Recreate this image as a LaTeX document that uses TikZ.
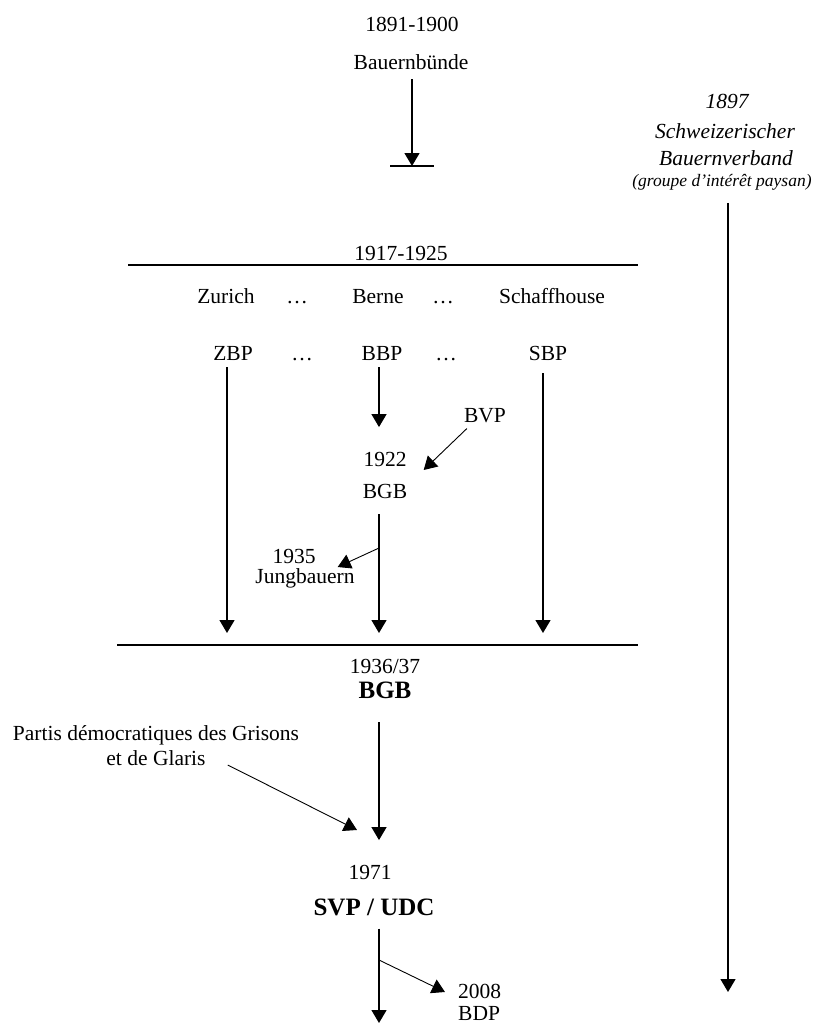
\documentclass[tikz,border=0pt]{standalone}
\usepackage{fontspec}
\setmainfont{Liberation Serif}
\usetikzlibrary{arrows.meta}
\begin{document}
\begin{tikzpicture}[x=1pt,y=-1pt,
  txt/.style={font=\fontsize{21.5}{25}\selectfont, inner sep=0pt, anchor=base},
  boldtxt/.style={font=\fontsize{25}{28}\selectfont\bfseries, inner sep=0pt, anchor=base},
  ital/.style={font=\fontsize{21.5}{25}\selectfont\itshape, inner sep=0pt, anchor=base},
  smallital/.style={font=\fontsize{17.5}{20}\selectfont\itshape, inner sep=0pt, anchor=base},
  tip/.style={-{Triangle[width=15pt,length=13pt]}},
  mainarrow/.style={tip, line width=1.4pt},
  thinarrow/.style={tip, line width=0.9pt},
  rule/.style={line width=1.4pt}]
\useasboundingbox (0,0) rectangle (819,1026);

% column coordinates
\coordinate (colB) at (379,0);
\coordinate (bar) at (412,166);
\coordinate (barL) at (390,166);
\coordinate (barR) at (434,166);
\coordinate (r1L) at (128,265);
\coordinate (r1R) at (638,265);
\coordinate (r2L) at (117,645);
\coordinate (r2R) at (638,645);
\coordinate (zEnd) at (227,633);
\coordinate (bEnd) at (379,633);
\coordinate (sEnd) at (543,633);
\coordinate (sbvEnd) at (728,992);
\coordinate (svpEnd) at (379,1023);
\coordinate (jbFork) at (379,548);
\coordinate (bdpFork) at (379,960);
\coordinate (mergeTip) at (357,830);

% top
\node[txt] (d1891) at (412,31) {1891-1900};
\node[txt] (bbunde) at (411,69) {Bauernbünde};
\draw[mainarrow, shorten <=10pt] (bbunde.south -| bar) -- (bar);
\draw[rule] (barL) -- (barR);

% right column
\node[ital] (d1897) at (727,108) {1897};
\node[ital] (schw) at (725,138) {Schweizerischer};
\node[ital] (bverb) at (726,165) {Bauernverband};
\node[smallital] (groupe) at (722,186) {(groupe d’intérêt paysan)};
\draw[mainarrow, shorten <=13pt] (groupe.south -| sbvEnd) -- (sbvEnd);

% 1917-1925
\node[txt] (d1917) at (401,260) {1917-1925};
\draw[rule] (r1L) -- (r1R);
\node[txt] (zurich) at (226,303) {Zurich};
\node[txt] (dotsA) at (297,303) {…};
\node[txt] (berne) at (378,303) {Berne};
\node[txt] (dotsB) at (443,303) {…};
\node[txt] (schaff) at (552,303) {Schaffhouse};
\node[txt] (zbp) at (233,360) {ZBP};
\node[txt] (dotsC) at (302,360) {…};
\node[txt] (bbp) at (382,360) {BBP};
\node[txt] (dotsD) at (446,360) {…};
\node[txt] (sbp) at (548,360) {SBP};

\node[txt] (bvp) at (485,422) {BVP};
\node[txt] (n1922) at (385,466) {1922};
\node[txt] (bgb) at (385,498) {BGB};
\node[txt] (j1935) at (294,563) {1935};
\node[txt] (jung) at (305,583) {Jungbauern};

\draw[mainarrow, shorten <=7pt] (zbp.south -| zEnd) -- (zEnd);
\draw[mainarrow, shorten <=7pt, shorten >=24.5pt] (bbp.south -| colB) -- (n1922.north -| colB);
\draw[mainarrow, shorten <=13pt] (sbp.south -| sEnd) -- (sEnd);
\draw[thinarrow] ([shift={(3,6)}]bvp.south west) -- ([shift={(17,11)}]n1922.east);
\draw[mainarrow, shorten <=16pt] (bgb.south -| bEnd) -- (bEnd);
\draw[thinarrow] (jbFork) -- ([shift={(22,4)}]j1935.base east);

% 1936/37
\draw[rule] (r2L) -- (r2R);
\node[txt] (d1936) at (385,673) {1936/37};
\node[boldtxt] (bgb2) at (385,698) {BGB};
\node[txt] (partis) at (156,740) {Partis démocratiques des Grisons};
\node[txt] (glaris) at (156,765) {et de Glaris};
\node[txt] (n1971) at (370,879) {1971};
\node[boldtxt] (svp) at (374,915) {SVP / UDC};

\draw[mainarrow, shorten <=24pt, shorten >=24.5pt] (bgb2.south -| colB) -- (n1971.north -| colB);
\draw[thinarrow] ([xshift=22pt]glaris.base east) -- (mergeTip);

% 2008
\node[txt, anchor=base west] (d2008) at (458,998) {2008};
\node[txt, anchor=base west] (bdp) at (458,1020) {BDP};
\draw[mainarrow, shorten <=13pt] (svp.south -| svpEnd) -- (svpEnd);
\draw[thinarrow] (bdpFork) -- ([shift={(-13,-6)}]d2008.base west);
\end{tikzpicture}
\end{document}
